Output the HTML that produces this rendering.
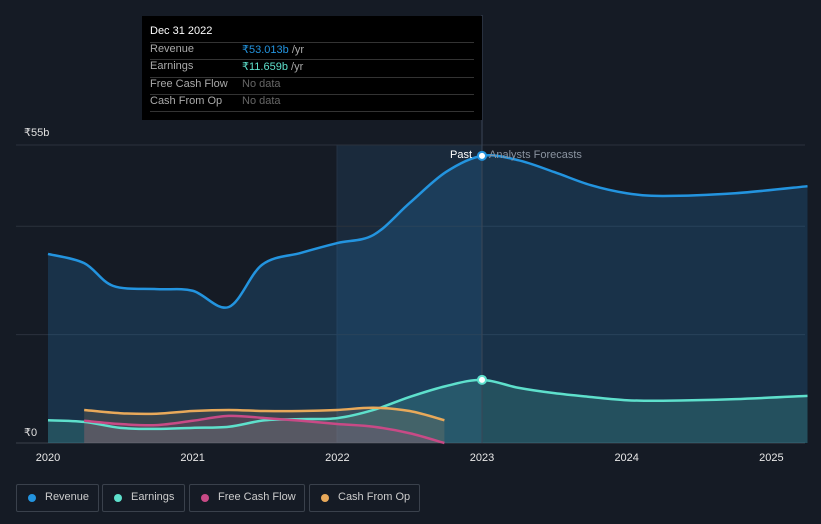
<!DOCTYPE html>
<html><head><meta charset="utf-8"><style>
body{margin:0;background:#151b25;font-family:"Liberation Sans",sans-serif;}
svg{display:block}
</style></head><body>
<svg id="c" width="821" height="524">
<defs>
<linearGradient id="pastg" x1="0" y1="0" x2="0" y2="1"><stop offset="0" stop-color="#1b4a6e" stop-opacity="0.55"/><stop offset="1" stop-color="#1b3a55" stop-opacity="0.35"/></linearGradient>
</defs>
<rect x="0" y="0" width="821" height="524" fill="#151b25"/>
<rect x="337" y="145" width="145" height="298" fill="#1a2a3c"/>
<g id="grid"></g>
<g id="areas"></g>
<g id="lines"></g>
<g id="axis"></g>
</svg>
<script>
const years=[2020,2021,2022,2023,2024,2025];
const revX=[2020,2020.25,2020.45,2020.75,2021,2021.25,2021.48,2021.75,2022,2022.25,2022.5,2022.75,2023,2023.25,2023.5,2023.75,2024,2024.25,2024.75,2025.25];
const revY=[34.9,33.2,29.0,28.4,28.1,25.1,32.9,35.1,36.9,38.4,44.3,50.0,53.0,52.2,50.0,47.6,46.1,45.6,46.1,47.4];
const earnX=[2020,2020.25,2020.5,2020.75,2021,2021.25,2021.5,2021.75,2022,2022.25,2022.5,2022.75,2023,2023.25,2023.5,2023.75,2024,2024.25,2024.75,2025.25];
const earnY=[4.2,3.9,2.8,2.6,2.8,3.0,4.2,4.4,4.6,6.1,8.5,10.5,11.66,10.2,9.2,8.5,7.9,7.8,8.1,8.7];
const fcfX=[2020.25,2020.5,2020.75,2021,2021.25,2021.5,2021.75,2022,2022.25,2022.5,2022.74];
const fcfY=[4.1,3.5,3.3,4.1,5.0,4.6,4.1,3.5,3.0,1.8,0];
const cfoX=[2020.25,2020.5,2020.75,2021,2021.25,2021.5,2021.75,2022,2022.25,2022.5,2022.74];
const cfoY=[6.1,5.5,5.4,5.9,6.1,5.9,5.9,6.1,6.5,5.9,4.2];
const gridVals=[0,20,40,55];
const sx=y=>48+(y-2020)*144.67;
const sy=v=>443-v*5.418;
const NS="http://www.w3.org/2000/svg";
function el(tag,attrs,parent){const e=document.createElementNS(NS,tag);for(const k in attrs)e.setAttribute(k,attrs[k]);parent.appendChild(e);return e;}
function path(xs,ys){const p=xs.map((x,i)=>[sx(x),sy(ys[i])]);let d="M"+p[0][0]+","+p[0][1];
for(let i=0;i<p.length-1;i++){const p0=p[i-1]||p[i],p1=p[i],p2=p[i+1],p3=p[i+2]||p2;
d+=" C"+(p1[0]+(p2[0]-p0[0])/6)+","+(p1[1]+(p2[1]-p0[1])/6)+" "+(p2[0]-(p3[0]-p1[0])/6)+","+(p2[1]-(p3[1]-p1[1])/6)+" "+p2[0]+","+p2[1];}return d;}
function area(xs,ys){return path(xs,ys)+" L"+sx(xs[xs.length-1])+","+sy(0)+" L"+sx(xs[0])+","+sy(0)+"Z";}
const G=document.getElementById('grid'),A=document.getElementById('areas'),L=document.getElementById('lines'),X=document.getElementById('axis');
gridVals.forEach(v=>{const l=el('line',{x1:16,x2:805,y1:sy(v),y2:sy(v),stroke:v==0?'#3a414c':'#2b323d','stroke-width':1},G);

});
const vl=el('line',{x1:337,x2:337,y1:145,y2:443,stroke:'#243244'},G);


const series=[
 ['revenue',revX,revY,'#2394df','rgba(35,110,170,0.28)'],
 ['earnings',earnX,earnY,'#5ee0cc','rgba(70,170,160,0.25)'],
 ['cash-from-op',cfoX,cfoY,'#e8a95a','rgba(200,150,100,0.18)'],
 ['free-cash-flow',fcfX,fcfY,'#c84a86','rgba(190,70,120,0.18)']];
series.forEach(s=>{const a=el('path',{d:area(s[1],s[2]),fill:s[4]},A);


const l=el('path',{d:path(s[1],s[2]),fill:'none',stroke:s[3],'stroke-width':2.5},L);

});
const dv=el('line',{x1:482,x2:482,y1:15,y2:443,stroke:'#3a4656'},L);


[[revY[12],'#2394df','revenue-marker'],[earnY[12],'#5ee0cc','earnings-marker']].forEach(m=>{const c=el('circle',{cx:sx(2023),cy:sy(m[0]),r:4,fill:'#fff',stroke:m[1],'stroke-width':2},L);

});
years.forEach(y=>{const t=el('text',{x:sx(y),y:461,fill:'#e8e8e8','font-size':11,'text-anchor':'middle'},X);t.textContent=y;

});
[[55,'₹55b',136],[0,'₹0',436]].forEach(v=>{const t=el('text',{x:24,y:v[2],fill:'#e0e0e0','font-size':11},X);t.textContent=v[1];

});
</script>
<div style="position:absolute;left:142px;top:16px;width:340px;height:104px;background:#000;font-size:11px;color:#aaa">
<div style="position:absolute;left:8px;top:9px;color:#fff">Dec 31 2022</div>
<div style="position:absolute;left:8px;right:8px;top:26px;border-top:1px solid #333"></div>
<div style="position:absolute;left:8px;top:27px">Revenue</div><div style="position:absolute;left:100px;top:27px"><span style="color:#2394df">₹53.013b</span> /yr</div>
<div style="position:absolute;left:8px;right:8px;top:43px;border-top:1px solid #333"></div>
<div style="position:absolute;left:8px;top:44px">Earnings</div><div style="position:absolute;left:100px;top:44px"><span style="color:#5ee0cc">₹11.659b</span> /yr</div>
<div style="position:absolute;left:8px;right:8px;top:61px;border-top:1px solid #333"></div>
<div style="position:absolute;left:8px;top:62px">Free Cash Flow</div><div style="position:absolute;left:100px;top:62px;color:#666">No data</div>
<div style="position:absolute;left:8px;right:8px;top:78px;border-top:1px solid #333"></div>
<div style="position:absolute;left:8px;top:79px">Cash From Op</div><div style="position:absolute;left:100px;top:79px;color:#666">No data</div>
<div style="position:absolute;left:8px;right:8px;top:95px;border-top:1px solid #333"></div>
</div>
<div style="position:absolute;left:450px;top:149px;font-size:11px;color:#fff">Past</div>
<div style="position:absolute;left:489px;top:149px;font-size:11px;color:#8a93a0">Analysts Forecasts</div>
<div style="position:absolute;left:16px;top:484px;font-size:11px;color:#ccc">
<div style="position:absolute;left:0;width:81px;height:26px;border:1px solid #3a414c;border-radius:2px;"><span style="position:absolute;left:11px;top:9px;width:8px;height:8px;border-radius:50%;background:#2394df"></span><span style="position:absolute;left:28px;top:6px">Revenue</span></div>
<div style="position:absolute;left:86px;width:81px;height:26px;border:1px solid #3a414c;border-radius:2px;"><span style="position:absolute;left:11px;top:9px;width:8px;height:8px;border-radius:50%;background:#5ee0cc"></span><span style="position:absolute;left:28px;top:6px">Earnings</span></div>
<div style="position:absolute;left:173px;width:114px;height:26px;border:1px solid #3a414c;border-radius:2px;"><span style="position:absolute;left:11px;top:9px;width:8px;height:8px;border-radius:50%;background:#c84a86"></span><span style="position:absolute;left:28px;top:6px">Free Cash Flow</span></div>
<div style="position:absolute;left:293px;width:109px;height:26px;border:1px solid #3a414c;border-radius:2px;"><span style="position:absolute;left:11px;top:9px;width:8px;height:8px;border-radius:50%;background:#e8a95a"></span><span style="position:absolute;left:28px;top:6px">Cash From Op</span></div>
</div>
</body></html>
